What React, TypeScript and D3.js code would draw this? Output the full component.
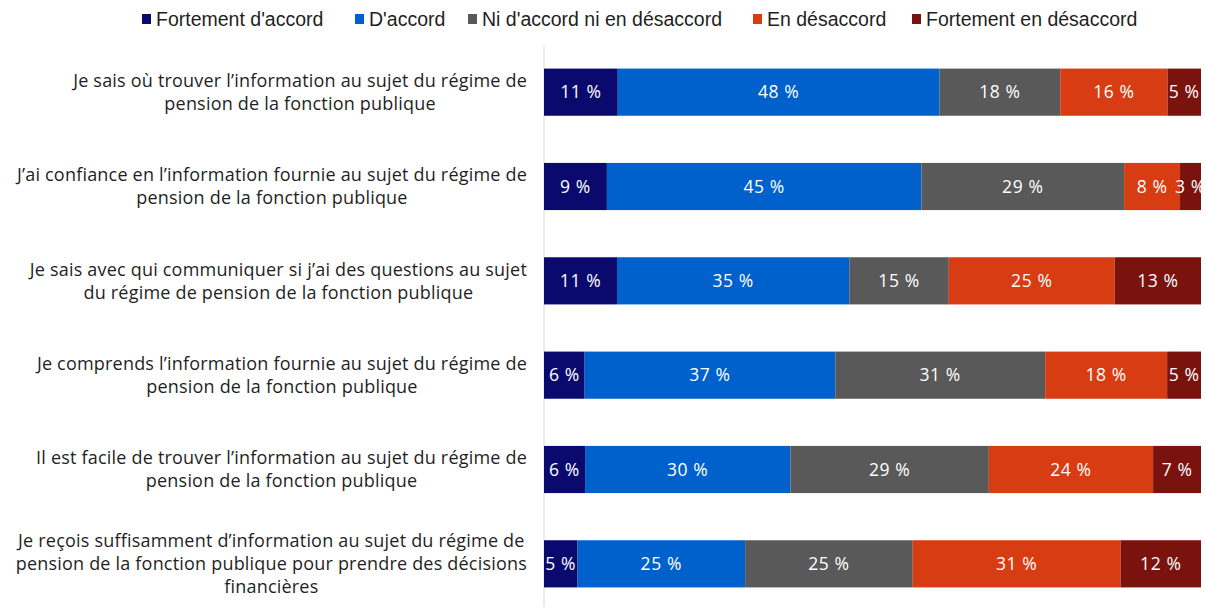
import React, { useEffect, useRef } from "react"
import * as d3 from "d3"

// categories (one bar each), label lines as they wrap in the original
const questions: string[][] = [
  ["Je sais où trouver l’information au sujet du régime de", "pension de la fonction publique"],
  ["J’ai confiance en l’information fournie au sujet du régime de", "pension de la fonction publique"],
  ["Je sais avec qui communiquer si j’ai des questions au sujet", "du régime de pension de la fonction publique"],
  ["Je comprends l’information fournie au sujet du régime de", "pension de la fonction publique"],
  ["Il est facile de trouver l’information au sujet du régime de", "pension de la fonction publique"],
  ["Je reçois suffisamment d’information au sujet du régime de", "pension de la fonction publique pour prendre des décisions", "financières"],
]

const series = ["Fortement d'accord", "D'accord", "Ni d'accord ni en désaccord", "En désaccord", "Fortement en désaccord"]
const colors = ["#0a0a6e", "#0060cc", "#595959", "#d83c12", "#7a120e"]

// values per series, in the order of the questions
const fortementAccord = [11, 9, 11, 6, 6, 5]
const accord = [48, 45, 35, 37, 30, 25]
const neutre = [18, 29, 15, 31, 29, 25]
const desaccord = [16, 8, 25, 18, 24, 31]
const fortementDesaccord = [5, 3, 13, 5, 7, 12]

const seriesValues = [fortementAccord, accord, neutre, desaccord, fortementDesaccord]

const FONT = "'Open Sans', 'Liberation Sans', sans-serif"
const LEGEND_FONT = "'Liberation Sans', Arial, sans-serif"

export default function App() {
  const ref = useRef<SVGSVGElement | null>(null)

  useEffect(() => {
    const width = 1206, height = 607
    const left = 544, right = 1201
    const svg = d3.select(ref.current)
    svg.selectAll("*").remove()

    // one row object per question, keyed by series
    const rows = questions.map((q, i) => {
      const r: any = { idx: i }
      series.forEach((s, j) => { r[s] = seriesValues[j][i] })
      return r
    })

    const stacked = d3.stack<any>()
      .keys(series)
      .offset(d3.stackOffsetExpand)(rows)

    const x = d3.scaleLinear().domain([0, 1]).range([left, right])
    const y = d3.scaleBand<number>()
      .domain(d3.range(questions.length))
      .range([45, 611])
      .paddingInner(0.5)
      .paddingOuter(0.25)

    // axis line
    svg.append("line")
      .attr("x1", left).attr("x2", left)
      .attr("y1", 45).attr("y2", 607)
      .attr("stroke", "#d9d9d9")
      .attr("stroke-width", 1)

    const groups = svg.selectAll("g.serie")
      .data(stacked)
      .enter()
      .append("g")
      .attr("class", "serie")
      .attr("fill", (d, i) => colors[i])

    groups.selectAll("rect")
      .data(d => d)
      .enter()
      .append("rect")
      .attr("x", d => x(d[0]))
      .attr("width", d => x(d[1]) - x(d[0]))
      .attr("y", d => y((d.data as any).idx)!)
      .attr("height", y.bandwidth())

    groups.selectAll("text")
      .data((d, i) => d.map(p => ({ p, v: seriesValues[i][(p.data as any).idx] })))
      .enter()
      .append("text")
      .attr("x", d => (x(d.p[0]) + x(d.p[1])) / 2)
      .attr("y", d => y((d.p.data as any).idx)! + y.bandwidth() / 2)
      .attr("dy", "0.36em")
      .attr("text-anchor", "middle")
      .attr("fill", "white")
      .style("font-family", FONT)
      .style("font-size", "17.5px")
      .style("letter-spacing", "0.6px")
      .text(d => d.v + " %")

    // category labels: block right aligned, lines centred inside it
    questions.forEach((lines, i) => {
      const g = svg.append("g")
      const lh = 23
      const cy = y(i)! + y.bandwidth() / 2
      const texts = g.selectAll("text")
        .data(lines)
        .enter()
        .append("text")
        .attr("y", (d, k) => cy + (k - (lines.length - 1) / 2) * lh)
        .attr("dy", "0.36em")
        .attr("text-anchor", "middle")
        .attr("fill", "#1f1f1f")
        .style("font-family", FONT)
        .style("font-size", "18px")
        .style("letter-spacing", "0.2px")
        .text(d => d)
      let maxW = 0
      texts.each(function () {
        maxW = Math.max(maxW, (this as SVGTextElement).getComputedTextLength())
      })
      texts.attr("x", 527 - maxW / 2)
    })

    // legend
    const legendX = [142, 355, 468, 753, 912]
    const legend = svg.selectAll("g.legend")
      .data(series)
      .enter()
      .append("g")
      .attr("class", "legend")
      .attr("transform", (d, i) => "translate(" + legendX[i] + ",19)")
    legend.append("rect")
      .attr("x", 0).attr("y", -5)
      .attr("width", 9).attr("height", 10)
      .attr("fill", (d, i) => colors[i])
    legend.append("text")
      .attr("x", 14)
      .attr("dy", "0.36em")
      .attr("fill", "#1f1f1f")
      .style("font-family", LEGEND_FONT)
      .style("font-size", "19.5px")
      .text(d => d)

    svg.attr("width", width).attr("height", height)
  }, [])

  return (
    <div style={{ position: "absolute", left: 0, top: 0 }}>
      <svg ref={ref} width={1206} height={607} style={{ display: "block", background: "white" }}></svg>
    </div>
  )
}
